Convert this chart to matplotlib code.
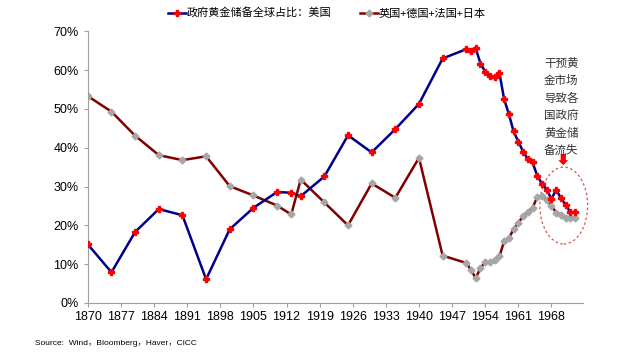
import numpy as np
import matplotlib
matplotlib.use("Agg")
import matplotlib.pyplot as plt
from matplotlib.patches import Ellipse, FancyArrow

plt.rcParams['font.family'] = ['Liberation Sans', 'Noto Sans CJK SC', 'DejaVu Sans']

# years of the observations (5-year steps, then yearly after 1950)
years = [1870, 1875, 1880, 1885, 1890, 1895, 1900, 1905, 1910, 1913, 1915,
         1920, 1925, 1930, 1935, 1940, 1945] + list(range(1950, 1974))

# share of global official gold reserves, %
us_share = [15.1, 7.9, 18.3, 24.2, 22.6, 6.1, 19.0, 24.5, 28.6, 28.4, 27.5,
            32.6, 43.2, 38.8, 44.8, 51.3, 63.0,
            65.4, 65.0, 65.6, 61.7, 59.6, 58.5, 58.3, 59.3, 52.5, 48.7, 44.2, 41.6,
            39.0, 37.1, 36.2, 32.8, 30.7, 29.2, 26.8, 29.2, 27.0, 25.3, 23.4, 23.4]
uk_de_fr_jp_share = [53.3, 49.3, 43.1, 38.1, 36.8, 37.8, 30.1, 27.7, 25.1, 22.8, 31.8,
                     25.9, 20.0, 30.8, 27.1, 37.4, 12.2,
                     10.3, 8.5, 6.4, 9.0, 10.5, 10.5, 11.1, 12.0, 15.9, 16.7, 19.0, 20.7,
                     22.3, 23.5, 24.5, 27.3, 27.6, 26.6, 25.0, 23.3, 22.7, 22.0, 22.0, 22.0]

label_us = '政府黄金储备全球占比：美国'
label_other = '英国+德国+法国+日本'
note = '干预黄\n金市场\n导致各\n国政府\n黄金储\n备流失'
source = 'Source:  Wind，Bloomberg，Haver，CICC'

fig = plt.figure(figsize=(6.41, 3.56), dpi=100)
ax = fig.add_axes([0.137, 0.149, 0.772, 0.763])

ax.plot(years, us_share, color='#00008B', lw=1.8, marker='P', ms=4.5,
        mfc='#FF0000', mec='#FF0000', label=label_us, zorder=3)
ax.plot(years, uk_de_fr_jp_share, color='#800000', lw=1.8, marker='D', ms=3.5,
        mfc='#A6A6A6', mec='#A6A6A6', label=label_other, zorder=2)

ax.set_xlim(1870, 1974.6)
ax.set_ylim(0, 70)
ax.set_xticks(np.arange(1870, 1969, 7))
ax.set_yticks(np.arange(0, 71, 10))
ax.set_yticklabels([f'{v}%' for v in range(0, 71, 10)])
ax.tick_params(labelsize=9, color='#A0A0A0', length=3, labelcolor='#000000')
ax.tick_params(axis='x', pad=3)
for s in ['top', 'right']:
    ax.spines[s].set_visible(False)
for s in ['left', 'bottom']:
    ax.spines[s].set_color('#A0A0A0')

leg = fig.legend(loc='upper center', bbox_to_anchor=(0.51, 1.005), ncol=2, frameon=False,
                 prop={'family': ['Noto Sans CJK SC'], 'size': 8},
                 handlelength=1.6, handletextpad=0.1, columnspacing=2.6)

# annotation near the end of the series
ax.text(1970.1, 63.5, note, ha='center', va='top', fontsize=8.3, linespacing=1.45,
        family=['Noto Sans CJK SC'], color='#333333')
ax.add_patch(FancyArrow(1970.5, 38.4, 0, -2.9, width=1.1, head_width=2.1,
                        head_length=1.3, length_includes_head=True,
                        color='#FF0000', lw=0, clip_on=False))
ax.add_patch(Ellipse((1970.6, 25.1), 10.1, 19.8, fill=False, ec='#E05050',
                     ls=(0, (2, 2)), lw=0.9, clip_on=False))

fig.text(0.055, 0.03, source, fontsize=6, family=['Liberation Sans', 'Noto Sans CJK SC'])

fig.savefig('out.png', dpi=100)
